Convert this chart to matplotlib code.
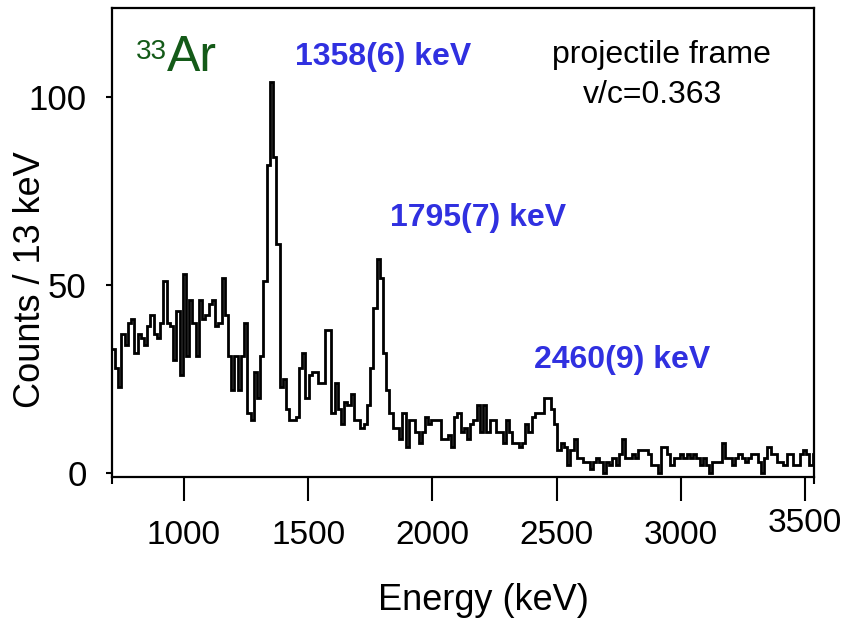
import numpy as np
import matplotlib.pyplot as plt
from matplotlib import font_manager
from matplotlib.transforms import ScaledTranslation

names = {f.name for f in font_manager.fontManager.ttflist}
FONT = 'Liberation Sans' if 'Liberation Sans' in names else 'DejaVu Sans'
plt.rcParams['font.family'] = [FONT, 'DejaVu Sans']

# 13 keV bins starting at 709 keV
bin_width = 13
e_start = 709

counts = np.array([
    # 709 - 1255 keV
    33, 28, 23, 37, 34, 40, 41, 32, 37, 36, 34, 39, 42, 37, 36, 40, 51, 40, 39, 30, 43,
    26, 53, 31, 46, 40, 31, 46, 41, 42, 45, 46, 39, 40, 52, 42, 31, 22, 31, 22, 31, 40,
    # 1255 - 1788 keV
    16, 14, 27, 20, 31, 51, 82, 104, 84, 61, 23, 25, 17, 14, 14, 15, 28, 32, 20, 26, 27,
    27, 24, 24, 38, 38, 16, 24, 17, 13, 19, 18, 21, 14, 14, 12, 13, 18, 28, 44, 57,
    # 1788 - 2373 keV
    52, 32, 22, 16, 12, 12, 9, 16, 7, 14, 14, 11, 8, 11, 15, 13, 14, 14, 14, 9, 9, 10, 7,
    15, 16, 11, 12, 9, 13, 14, 18, 11, 18, 11, 14, 14, 11, 11, 8, 14, 11, 8, 8, 7, 8,
    # 2373 - 2971 keV
    13, 11, 15, 16, 16, 16, 20, 20, 17, 13, 6, 8, 7, 2, 6, 9, 4, 4, 3, 3, 1, 3, 4, 3, 0,
    3, 2, 4, 2, 5, 9, 4, 4, 5, 4, 6, 6, 6, 5, 2, 2, 0, 7, 7, 5, 2,
    # 2971 - 3543 keV
    4, 4, 5, 4, 5, 4, 5, 4, 2, 4, 2, 0, 3, 3, 3, 8, 4, 4, 2, 4, 5, 4, 3, 4, 5, 5, 3, 0,
    4, 7, 5, 5, 3, 3, 2, 5, 5, 2, 2, 5, 6, 5, 2, 5,
])
edges = e_start + bin_width * np.arange(len(counts) + 1)

x_ticks = [1000, 1500, 2000, 2500, 3000, 3500]
y_ticks = [0, 50, 100]
peak_labels = ['1358(6) keV', '1795(7) keV', '2460(9) keV']

W, H = 854, 622
fig = plt.figure(figsize=(W / 100, H / 100), dpi=100)
ax = fig.add_axes([111.7 / W, 1 - 477 / H, (814.3 - 111.7) / W, (477 - 8) / H])

ax.stairs(counts, edges, baseline=None, color='black', lw=2.0)

ax.set_xlim(709, 3537)
ax.set_ylim(-1.06, 123.7)
for s in ax.spines.values():
    s.set_linewidth(1.6)

ax.set_xticks(x_ticks)
ax.set_yticks(y_ticks)
ax.set_xticks([709, 3537], minor=True)
ax.tick_params(axis='x', which='major', direction='out', length=17, width=1.5,
               pad=14, labelsize=24)
ax.tick_params(axis='x', which='minor', direction='out', length=5, width=1.5)
ax.tick_params(axis='y', direction='out', length=4, width=1.5, pad=14, labelsize=25)
lbl = ax.get_xticklabels()[-1]
lbl.set_transform(lbl.get_transform() + ScaledTranslation(0, 9 / 72, fig.dpi_scale_trans))

fig.text(483 / W, 1 - 600 / H, 'Energy (keV)', ha='center', va='center', fontsize=26)
fig.text(31 / W, 1 - 280 / H, 'Counts / 13 keV', ha='center', va='center',
         rotation=90, fontsize=26)

def px(x, y):
    return x / W, 1 - y / H

green = '#145a18'
fig.text(*px(136, 52), '33', color=green, fontsize=20, ha='left', va='center')
fig.text(*px(167, 58), 'Ar', color=green, fontsize=36, ha='left', va='center')

blue = '#3030e0'
for (x, y), t in zip([(383, 57), (478, 218), (622, 360)], peak_labels):
    fig.text(*px(x, y), t, color=blue, fontsize=23, fontweight='bold',
             ha='center', va='center')

fig.text(*px(661, 55), 'projectile frame', fontsize=23, ha='center', va='center')
fig.text(*px(653, 95), 'v/c=0.363', fontsize=23, ha='center', va='center')

fig.savefig('out.png', dpi=100)
